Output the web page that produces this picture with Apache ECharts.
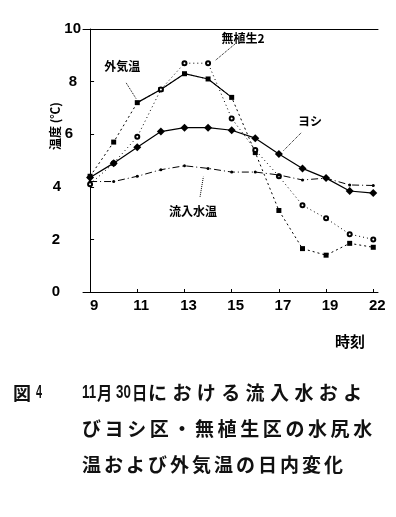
<!DOCTYPE html>
<html>
<head>
<meta charset="utf-8">
<script src="https://cdn.jsdelivr.net/npm/echarts@6/dist/echarts.min.js"></script>
<style>
html,body{margin:0;padding:0;background:#fff;}
#c{width:396px;height:517px;}
</style>
</head>
<body>
<div id="c"></div>
<script>
// ---- data ----
const hours = ['9','10','11','12','13','14','15','16','17','18','19','20','22'];
const xTickLabels = ['9','11','13','15','17','19','22'];
const yTicks = [0,2,4,6,8,10];
const airTemp = [4.4,5.7,7.2,7.7,8.3,8.1,7.4,5.3,3.1,1.65,1.4,1.85,1.7];
const noVeg2  = [4.1,4.9,5.9,7.7,8.7,8.7,6.6,5.4,4.4,3.3,2.8,2.2,2.0];
const yoshi   = [4.35,4.9,5.5,6.1,6.25,6.25,6.15,5.85,5.25,4.7,4.33,3.84,3.76];
const inflow  = [4.2,4.2,4.4,4.65,4.8,4.7,4.56,4.56,4.45,4.26,4.33,4.07,4.05];
const seriesNames = ['外気温','無植生2','ヨシ','流入水温'];
const captionLines = ['11月30日における流入水およ','びヨシ区・無植生区の水尻水','温および外気温の日内変化'];
const figLabel = '図 4';

// ---- build ----
const toPts = arr => arr.map((v,i)=>[i,v]);
const airSolidPart = airTemp.map((v,i)=> (i>=2 && i<=6) ? [i,v] : [i,null]);
const tickIdx = xTickLabels.map(l => hours.indexOf(l));

const CJK = '"Noto Sans CJK JP", sans-serif';
const LAT = '"Liberation Sans", Arial, sans-serif';

const yPad = {10:0, 8:4, 6:8, 4:20, 2:21, 0:21};
const rich = {};
yTicks.forEach(t => { rich['v'+t] = {fontFamily:LAT, fontWeight:'bold', fontSize:15, color:'#000', padding:[0, yPad[t], 0, 0]}; });

const chart = echarts.init(document.getElementById('c'), null, {renderer:'canvas'});

function arrow(from, to){ return [{coord:from},{coord:to}]; }
function tag(name, at){ return {name:name, coord:at}; }

const annLine = {
  silent:true, animation:false,
  symbol:['none','arrow'], symbolSize:[0,9],
  label:{show:false},
  lineStyle:{color:'#000', type:'dotted', width:1}
};
const annPoint = {
  silent:true, animation:false,
  symbol:'circle', symbolSize:1,
  itemStyle:{color:'rgba(0,0,0,0)'},
  label:{show:true, position:'inside', formatter:'{b}', color:'#000', fontFamily:CJK, fontWeight:'bold', fontSize:12}
};

// caption graphic
const graphics = [];
function addChars(str, x0, pitch, y, size){
  for (let i=0;i<str.length;i++){
    graphics.push({type:'text', x:x0+i*pitch, y:y,
      style:{text:str[i], font:'bold '+size+'px '+CJK, fill:'#111', textVerticalAlign:'middle'}});
  }
}
function addText(str, x, y, size, font, sx){
  graphics.push({type:'text', x:x, y:y, scaleX:sx||1,
    style:{text:str, font:'bold '+size+'px '+(font||CJK), fill:'#111', textVerticalAlign:'middle'}});
}
addText(figLabel.split(' ')[0], 13, 393, 18);
addText(figLabel.split(' ')[1], 36, 393, 18, LAT, 0.6);
const l1 = captionLines[0];
addText(l1.slice(0,2), 82, 393, 19, LAT, 0.7);
addText(l1.slice(2,3), 97, 393, 18, CJK, 0.85);
addText(l1.slice(3,5), 116, 393, 19, LAT, 0.7);
addText(l1.slice(5,6), 132, 393, 18, CJK, 0.85);
addChars(l1.slice(6), 148, 24.4, 393, 19);
addChars(captionLines[1], 82, 22.6, 429, 19);
addChars(captionLines[2], 82, 22.0, 465, 19);
// axis names
graphics.push({type:'text', x:55, y:126, rotation:Math.PI/2,
  style:{text:'温度 (℃)', font:'bold 12px '+CJK, fill:'#000', textAlign:'center', textVerticalAlign:'middle'}});
graphics.push({type:'text', x:350, y:341,
  style:{text:'時刻', font:'bold 15px '+CJK, fill:'#000', textAlign:'center', textVerticalAlign:'middle'}});

const option = {
  animation:false,
  backgroundColor:'#fff',
  grid:{left:83, right:18, top:29, bottom:225},
  xAxis:[{
    type:'value', min:-0.3, max:12.2,
    axisLine:{show:true, lineStyle:{color:'#000', width:1}},
    axisTick:{show:true, inside:true, length:3, customValues:tickIdx, lineStyle:{color:'#000'}},
    axisLabel:{show:true, customValues:tickIdx, margin:6, padding:[0,0,0,8],
      formatter: v => hours[Math.round(v)],
      fontFamily:LAT, fontWeight:'bold', fontSize:15, color:'#000'},
    splitLine:{show:false}
  },{
    type:'value', position:'top', min:-0.3, max:12.2,
    axisLine:{show:true, lineStyle:{color:'#000', width:1}},
    axisTick:{show:false}, axisLabel:{show:false}, splitLine:{show:false}
  }],
  yAxis:{
    type:'value', min:0, max:10, interval:2,
    axisLine:{show:true, lineStyle:{color:'#000', width:1}},
    axisTick:{show:true, inside:true, length:4, lineStyle:{color:'#000'}},
    axisLabel:{margin:2, formatter: v => '{v'+v+'|'+v+'}', rich:rich},
    splitLine:{show:false}
  },
  graphic:graphics,
  series:[
    {name:seriesNames[0], type:'line', data:toPts(airTemp), symbol:'rect', symbolSize:5,
      lineStyle:{color:'#000', width:1, type:[2,3]}, itemStyle:{color:'#000'},
      markLine:Object.assign({}, annLine, {data:[arrow([1.53,7.95],[1.95,7.35])]}),
      markPoint:Object.assign({}, annPoint, {data:[tag(seriesNames[0],[1.36,8.59])]})},
    {name:'air-solid', type:'line', data:airSolidPart, symbol:'none', connectNulls:false,
      lineStyle:{color:'#000', width:1.2}},
    {name:seriesNames[1], type:'line', data:toPts(noVeg2), symbol:'emptyCircle', symbolSize:4,
      lineStyle:{color:'#000', width:1, type:[1,3]}, itemStyle:{color:'#000', borderColor:'#000', borderWidth:1.5},
      markLine:Object.assign({}, annLine, {data:[arrow([6.14,9.43],[5.3,8.8])]}),
      markPoint:Object.assign({}, annPoint, {data:[tag(seriesNames[1],[6.48,9.66])]})},
    {name:seriesNames[2], type:'line', data:toPts(yoshi), symbol:'diamond', symbolSize:8,
      lineStyle:{color:'#000', width:1.2}, itemStyle:{color:'#000'},
      markLine:Object.assign({}, annLine, {data:[arrow([8.94,6.05],[8.2,5.38])]}),
      markPoint:Object.assign({}, annPoint, {data:[tag(seriesNames[2],[9.32,6.5])]})},
    {name:seriesNames[3], type:'line', data:toPts(inflow), symbol:'circle', symbolSize:3,
      lineStyle:{color:'#000', width:1, type:[7,3,1,3]}, itemStyle:{color:'#000'},
      markLine:Object.assign({}, annLine, {data:[arrow([4.66,3.62],[4.8,4.38])]}),
      markPoint:Object.assign({}, annPoint, {data:[tag(seriesNames[3],[4.36,3.08])]})}
  ]
};
chart.setOption(option);
</script>
</body>
</html>
